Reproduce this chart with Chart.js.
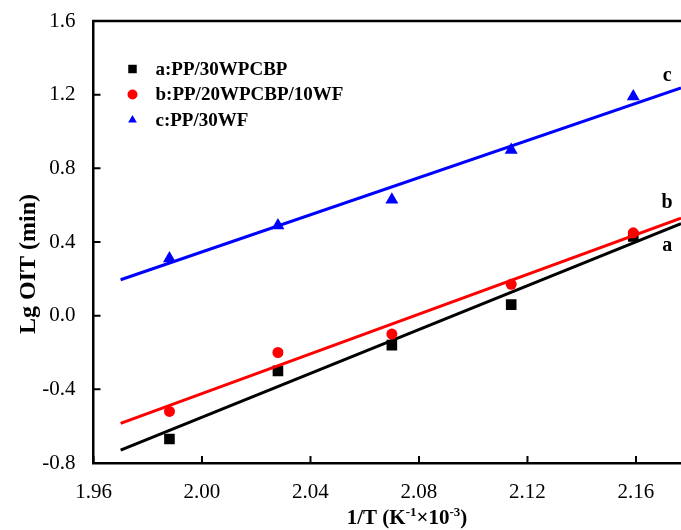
<!DOCTYPE html>
<html>
<head>
<meta charset="utf-8">
<script src="https://cdn.jsdelivr.net/npm/chart.js@4.4.1/dist/chart.umd.min.js"></script>
<style>
    html, body { margin: 0; padding: 0; background: #fff; overflow: hidden; }
    #oit-wrap { position: relative; width: 681px; height: 530px; }
</style>
</head>
<body>
<div id="oit-wrap"><canvas id="oit-chart"></canvas></div>
<script>
// 1/T (K^-1 x 10^-3) for the five test temperatures
const invTemp = [1.988, 2.028, 2.070, 2.114, 2.159];

// Lg OIT (min) per sample
const lgOitA = [-0.67, -0.30, -0.16, 0.06, 0.43];
const lgOitB = [-0.52, -0.20, -0.10, 0.17, 0.45];
const lgOitC = [0.31, 0.49, 0.63, 0.90, 1.19];

// linear fits, given by their end points
const fitX = [1.970, 2.1766];
const fitA = [-0.73, 0.50];
const fitB = [-0.585, 0.53];
const fitC = [0.195, 1.237];

const seriesLabels = ["a:PP/30WPCBP", "b:PP/20WPCBP/10WF", "c:PP/30WF"];
const endLabels = ["a", "b", "c"];
const endLabelY = [0.38, 0.61, 1.305];
const endLabelX = 2.1715;

const xTicks = [1.96, 2.00, 2.04, 2.08, 2.12, 2.16];
const yTicks = [-0.8, -0.4, 0.0, 0.4, 0.8, 1.2, 1.6];

const SERIF = "'Liberation Serif', 'Times New Roman', serif";

function toPoints(xs, ys) {
    return xs.map((x, i) => ({ x, y: ys[i] }));
}

function scatterSet(label, values, color, style, radius, order) {
    return {
        type: "scatter",
        label,
        data: toPoints(invTemp, values),
        pointStyle: style,
        pointRadius: radius,
        pointHoverRadius: radius,
        pointBackgroundColor: color,
        pointBorderColor: color,
        pointBorderWidth: 0,
        order,
    };
}

function fitSet(values, color, order) {
    return {
        type: "line",
        label: "",
        data: toPoints(fitX, values),
        borderColor: color,
        borderWidth: 3,
        pointRadius: 0,
        fill: false,
        order,
    };
}

// frame top line, inward tick marks, legend, end letters and axis titles
const framePlugin = {
    id: "oitFrame",
    afterDraw(chart) {
        const { ctx, chartArea: area, scales } = chart;
        const sets = chart.data.datasets.filter((d) => d.type === "scatter");

        ctx.save();
        ctx.strokeStyle = "#000";
        ctx.lineWidth = 2.5;
        ctx.beginPath();
        ctx.moveTo(area.left - 1.25, area.top);
        ctx.lineTo(area.right, area.top);
        ctx.stroke();

        ctx.lineWidth = 2;
        ctx.beginPath();
        scales.x.ticks.forEach((t) => {
            const px = scales.x.getPixelForValue(t.value);
            ctx.moveTo(px, area.bottom);
            ctx.lineTo(px, area.bottom - 7);
        });
        scales.y.ticks.forEach((t) => {
            const py = scales.y.getPixelForValue(t.value);
            ctx.moveTo(area.left, py);
            ctx.lineTo(area.left + 7, py);
        });
        ctx.stroke();

        // legend
        ctx.font = "bold 19px " + SERIF;
        ctx.textBaseline = "middle";
        ctx.textAlign = "left";
        sets.forEach((ds, i) => {
            const lx = area.left + 39;
            const ly = area.top + 48 + i * 25.5;
            ctx.fillStyle = ds.pointBackgroundColor;
            ctx.strokeStyle = ds.pointBorderColor;
            Chart.helpers.drawPoint(ctx, {
                pointStyle: ds.pointStyle,
                radius: ds.pointStyle === "rect" ? 6 : 5,
                rotation: 0,
                borderWidth: 0,
            }, lx, ly);
            ctx.fillStyle = "#000";
            ctx.fillText(seriesLabels[i], lx + 23, ly + 1);
        });

        // curve letters at the right end
        ctx.font = "bold 20px " + SERIF;
        ctx.textAlign = "center";
        endLabels.forEach((txt, i) => {
            ctx.fillText(txt, scales.x.getPixelForValue(endLabelX), scales.y.getPixelForValue(endLabelY[i]));
        });

        // y title
        ctx.save();
        ctx.translate(29, area.top + 243);
        ctx.rotate(-Math.PI / 2);
        ctx.font = "bold 24px " + SERIF;
        ctx.textAlign = "center";
        ctx.fillText("Lg OIT (min)", 0, 0);
        ctx.restore();

        // x title with superscripts
        const parts = [
            ["1/T (K", 21, 0],
            ["-1", 13, -8],
            ["\u00d710", 21, 0],
            ["-3", 13, -8],
            [")", 21, 0],
        ];
        ctx.textAlign = "left";
        ctx.textBaseline = "alphabetic";
        let total = 0;
        parts.forEach(([s, size]) => {
            ctx.font = "bold " + size + "px " + SERIF;
            total += ctx.measureText(s).width;
        });
        let cx = 407 - total / 2;
        parts.forEach(([s, size, dy]) => {
            ctx.font = "bold " + size + "px " + SERIF;
            ctx.fillText(s, cx, 524 + dy);
            cx += ctx.measureText(s).width;
        });
        ctx.restore();
    },
};

new Chart(document.getElementById("oit-chart"), {
    data: {
        datasets: [
            fitSet(fitA, "#000000", 5),
            scatterSet(seriesLabels[0], lgOitA, "#000000", "rect", 7.5, 4),
            fitSet(fitB, "#ff0000", 3),
            scatterSet(seriesLabels[1], lgOitB, "#ff0000", "circle", 5.5, 2),
            fitSet(fitC, "#0000ff", 1),
            scatterSet(seriesLabels[2], lgOitC, "#0000ff", "triangle", 7.5, 0),
        ],
    },
    options: {
        responsive: true,
        maintainAspectRatio: false,
        animation: false,
        events: [],
        layout: { autoPadding: false, padding: { top: 21, right: 0, left: 0, bottom: 0 } },
        plugins: {
            legend: { display: false },
            tooltip: { enabled: false },
        },
        scales: {
            x: {
                type: "linear",
                min: 1.96,
                max: fitX[1],
                afterBuildTicks(scale) {
                    scale.ticks = xTicks.map((v) => ({ value: v }));
                },
                afterFit(scale) {
                    scale.height = 67;
                    scale.paddingLeft = 0;
                    scale.paddingRight = 0;
                },
                grid: { display: false },
                border: { display: true, color: "#000", width: 2.5 },
                ticks: {
                    color: "#000",
                    padding: 9,
                    maxRotation: 0,
                    font: { family: SERIF, size: 21 },
                    callback(value) {
                        return Number(value).toFixed(2);
                    },
                },
            },
            y: {
                type: "linear",
                min: -0.8,
                max: 1.6,
                afterBuildTicks(scale) {
                    scale.ticks = yTicks.map((v) => ({ value: v }));
                },
                afterFit(scale) {
                    scale.width = 93.5;
                    scale.paddingTop = 0;
                    scale.paddingBottom = 0;
                },
                grid: { display: false },
                border: { display: true, color: "#000", width: 2.5 },
                ticks: {
                    color: "#000",
                    padding: 10,
                    font: { family: SERIF, size: 21 },
                    callback(value) {
                        return Number(value).toFixed(1);
                    },
                },
            },
        },
    },
    plugins: [framePlugin],
});
</script>
</body>
</html>
